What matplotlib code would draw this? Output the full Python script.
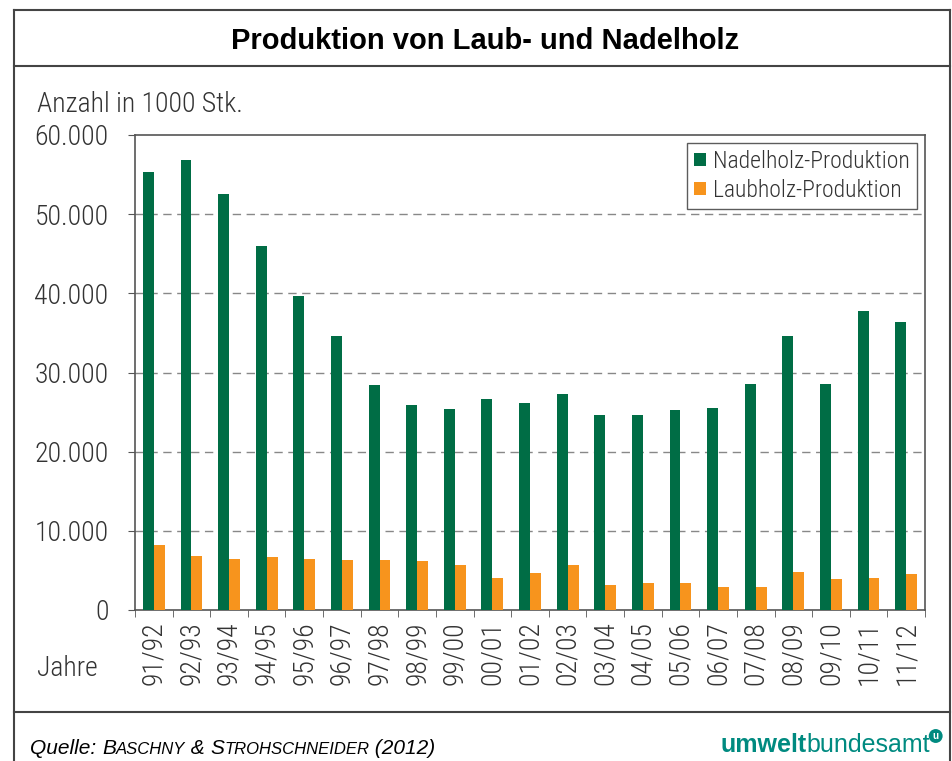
import numpy as np
import matplotlib
matplotlib.use('Agg')
import matplotlib.pyplot as plt
from matplotlib.lines import Line2D

# data (in 1000 Stk.)
jahre = ['91/92', '92/93', '93/94', '94/95', '95/96', '96/97', '97/98', '98/99', '99/00', '00/01',
         '01/02', '02/03', '03/04', '04/05', '05/06', '06/07', '07/08', '08/09', '09/10', '10/11', '11/12']
nadelholz = [55300, 56900, 52500, 46000, 39700, 34600, 28400, 25900, 25400, 26700,
             26100, 27300, 24600, 24600, 25300, 25500, 28500, 34600, 28500, 37800, 36400]
laubholz = [8200, 6800, 6400, 6700, 6400, 6300, 6300, 6200, 5700, 4000,
            4700, 5700, 3200, 3400, 3400, 2900, 2900, 4800, 3900, 4000, 4600]
yticks = [0, 10000, 20000, 30000, 40000, 50000, 60000]
ytick_labels = ['0', '10.000', '20.000', '30.000', '40.000', '50.000', '60.000']

W, H = 952, 761
narrow = ['Roboto Condensed', 'Liberation Sans', 'DejaVu Sans']
green = '#006d45'
orange = '#f7941d'
teal = '#008a80'
grey_txt = '#333333'

fig = plt.figure(figsize=(W / 100, H / 100), dpi=100)

def fx(px):
    return px / W

def fy(py):
    return 1 - py / H

# outer frame and separators
for (x0, y0, x1, y1) in [(14, 10, 950, 10), (14, 10, 14, 761), (950, 10, 950, 761),
                         (14, 66, 950, 66), (14, 712, 950, 712)]:
    fig.add_artist(Line2D([fx(x0), fx(x1)], [fy(y0), fy(y1)], color='#444444', lw=1.5))

fig.text(fx(485), fy(41), 'Produktion von Laub- und Nadelholz', ha='center', va='center',
         fontsize=21, fontweight='bold', family='Liberation Sans')

ax = fig.add_axes([fx(135), fy(610), fx(925) - fx(135), (610 - 135) / H])
x = np.arange(len(jahre))
bw = 0.29
ax.bar(x - bw / 2, nadelholz, bw, color=green, label='Nadelholz-Produktion', zorder=3)
ax.bar(x + bw / 2, laubholz, bw, color=orange, label='Laubholz-Produktion', zorder=3)

ax.set_xlim(-0.5, len(jahre) - 0.5)
ax.set_ylim(0, 60000)
ax.set_yticks(yticks)
ax.set_yticklabels(ytick_labels, family=narrow, fontsize=20, color=grey_txt, fontweight='light')
ax.set_xticks(x)
ax.set_xticklabels(jahre, rotation=90, family=narrow, fontsize=20, color=grey_txt, fontweight='light')
ax.set_xticks(np.arange(len(jahre) + 1) - 0.5, minor=True)
ax.tick_params(axis='x', which='major', length=0, pad=8)
ax.tick_params(axis='x', which='minor', length=5, direction='out', color='#555555')
ax.tick_params(axis='y', length=5, direction='out', color='#555555', pad=14)
for s in ax.spines.values():
    s.set_color('#555555')
    s.set_linewidth(1.2)
for v in yticks[1:-1]:
    ax.axhline(v, color='#888888', lw=1, ls=(0, (6, 4)), zorder=1)

leg = ax.legend(loc='upper right', bbox_to_anchor=(1 - 8 / 790, 1 - 8 / 475),
                prop={'family': narrow, 'size': 17, 'weight': 'light'},
                frameon=True, fancybox=False, edgecolor='#333333', handlelength=0.5, handleheight=0.5,
                handletextpad=0.3, borderpad=0.3, labelspacing=0.25, borderaxespad=0)
leg.get_frame().set_linewidth(1)
for t in leg.get_texts():
    t.set_color(grey_txt)

fig.text(fx(37), fy(104), 'Anzahl in 1000 Stk.', ha='left', va='center', family=narrow, fontsize=20,
         color=grey_txt, fontweight='light')
fig.text(fx(37), fy(668), 'Jahre', ha='left', va='center', family=narrow, fontsize=20,
         color=grey_txt, fontweight='light')

# Quelle with small caps
renderer = fig.canvas.get_renderer()
parts = [('Quelle: ', 15), ('B', 15), ('ASCHNY', 12), (' & ', 15), ('S', 15), ('TROHSCHNEIDER', 12), (' (2012)', 15)]
xp = 30
for txt, sz in parts:
    t = fig.text(fx(xp), fy(754), txt, ha='left', va='baseline', fontsize=sz, style='italic', family='Liberation Sans')
    bb = t.get_window_extent(renderer)
    xp += bb.width

# logo
t1 = fig.text(fx(720), fy(752), 'umwelt', ha='left', va='baseline', fontsize=18, fontweight='bold',
              color=teal, family='Liberation Sans')
bb = t1.get_window_extent(renderer)
t2 = fig.text(fx(720) + bb.width / W, fy(752), 'bundesamt', ha='left', va='baseline', fontsize=18,
              color=teal, family='Liberation Sans')
bb2 = t2.get_window_extent(renderer)
fig.text(fx(720) + (bb.width + bb2.width + 3) / W, fy(736), 'u', ha='left', va='center', fontsize=7,
         fontweight='bold', color='white', family='Liberation Sans',
         bbox=dict(boxstyle='circle,pad=0.2', facecolor=teal, edgecolor='none'))

fig.savefig('out.png', dpi=100)
